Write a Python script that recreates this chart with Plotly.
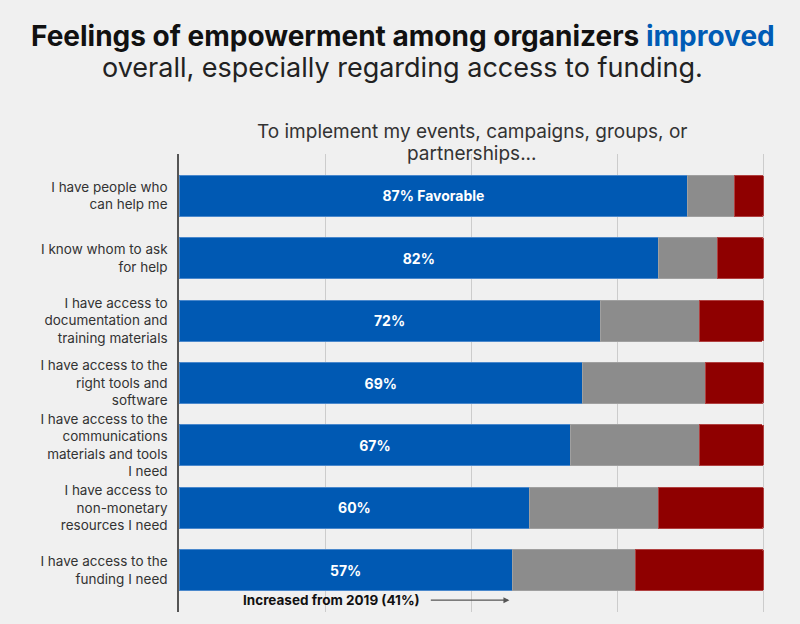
import plotly.graph_objects as go

categories = [
    "I have people who<br>can help me",
    "I know whom to ask<br>for help",
    "I have access to<br>documentation and<br>training materials",
    "I have access to the<br>right tools and<br>software",
    "I have access to the<br>communications<br>materials and tools<br>I need",
    "I have access to<br>non-monetary<br>resources I need",
    "I have access to the<br>funding I need",
]
favorable = [87, 82, 72, 69, 67, 60, 57]
neutral = [8, 10, 17, 21, 22, 22, 21]
unfavorable = [5, 8, 11, 10, 11, 18, 22]
bar_text = [f"{v}% Favorable" if i == 0 else f"{v}%" for i, v in enumerate(favorable)]
tick_vals = [0, 25, 50, 75, 100]

FONT = "Inter"
BLUE = "#0059b3"
GRAY = "#8c8c8c"
RED = "#8f0000"

W, H = 800, 624
ML, MR, MT, MB = 179, 35, 154, 12


def py(pixel_y):
    """Convert a pixel y (from top) into paper coordinates."""
    return (H - MB - pixel_y) / (H - MT - MB)


def px(pixel_x):
    """Convert a pixel x (from left) into paper coordinates."""
    return (pixel_x - ML) / (W - ML - MR)


fig = go.Figure()
fig.add_trace(go.Bar(
    y=categories, x=favorable, orientation="h", name="Favorable",
    marker=dict(color=BLUE, line=dict(color="#4a88cc", width=1)),
    text=bar_text, textposition="inside", insidetextanchor="middle",
    textfont=dict(color="white", size=14, family=FONT, weight="bold"),
    hoverinfo="skip",
))
fig.add_trace(go.Bar(
    y=categories, x=neutral, orientation="h", name="Neutral",
    marker=dict(color=GRAY, line=dict(color="#a0a0a0", width=1)),
    hoverinfo="skip",
))
fig.add_trace(go.Bar(
    y=categories, x=unfavorable, orientation="h", name="Unfavorable",
    marker=dict(color=RED, line=dict(color="#b04040", width=1)),
    hoverinfo="skip",
))

fig.update_layout(
    width=W, height=H,
    barmode="stack", bargap=0.34, barcornerradius=3,
    paper_bgcolor="#f0f0f0", plot_bgcolor="#f0f0f0",
    showlegend=False,
    margin=dict(l=ML, r=MR, t=MT, b=MB, autoexpand=False),
    font=dict(family=FONT, color="#333333"),
    xaxis=dict(
        range=[0, 100.2], tickvals=tick_vals, showticklabels=False,
        showgrid=True, gridcolor="#cccccc", gridwidth=1, zeroline=False,
        fixedrange=True, automargin=False,
    ),
    yaxis=dict(
        autorange=False, range=[6.67, -0.67], automargin=False,
        showline=True, linecolor="#555555", linewidth=1.5,
        ticks="", ticklabelstandoff=7,
        tickfont=dict(size=13.5, color="#333333", family=FONT),
    ),
)

# Title (two lines), centred on the page
fig.add_annotation(
    xref="paper", yref="paper", x=px(403), xanchor="center", y=py(36), yanchor="middle",
    text="<b>Feelings of empowerment among organizers <span style='color:#005bb5'>improved</span></b>",
    showarrow=False, font=dict(size=28, color="#111111", family=FONT),
)
fig.add_annotation(
    xref="paper", yref="paper", x=px(402), xanchor="center", y=py(68), yanchor="middle",
    text="overall, especially regarding access to funding.",
    showarrow=False, font=dict(size=27, color="#222222", family=FONT),
)
# Subtitle, centred over the plot
fig.add_annotation(
    xref="paper", yref="paper", x=0.5, xanchor="center", y=py(131), yanchor="middle",
    text="To implement my events, campaigns, groups, or",
    showarrow=False, font=dict(size=19, color="#333333", family=FONT),
)
fig.add_annotation(
    xref="paper", yref="paper", x=0.5, xanchor="center", y=py(153), yanchor="middle",
    text="partnerships...",
    showarrow=False, font=dict(size=19, color="#333333", family=FONT),
)
fig.add_annotation(
    x=41.5, y=6.48, xref="x", yref="y", xanchor="right",
    text="<b>Increased from 2019 (41%)</b>", showarrow=False,
    font=dict(size=13.5, color="#111111", family=FONT),
)
fig.add_annotation(
    x=56.5, y=6.48, ax=42.8, ay=6.48, xref="x", yref="y", axref="x", ayref="y",
    text="", showarrow=True, arrowhead=2, arrowsize=1, arrowwidth=1.2, arrowcolor="#555555",
)

fig.write_html(
    "out.html",
    config={"displayModeBar": False},
    post_script="document.body.style.margin='0';",
)
